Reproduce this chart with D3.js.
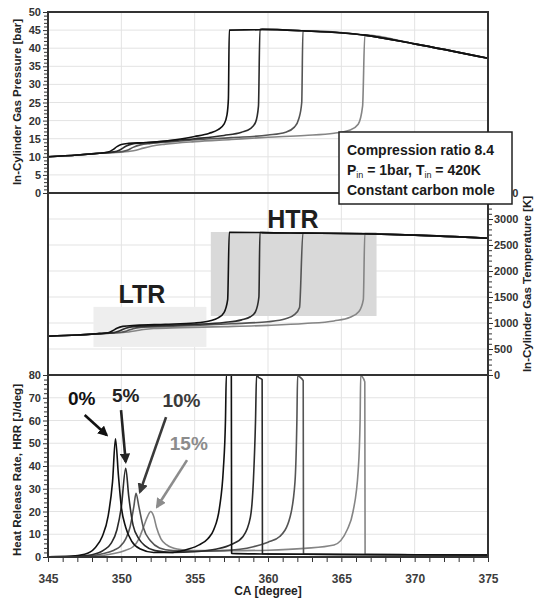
<!DOCTYPE html>
<html>
<head>
<meta charset="utf-8">
<script src="https://cdn.jsdelivr.net/npm/d3@7/dist/d3.min.js"></script>
<style>
  body { margin: 0; background: #fff; }
  svg { display: block; font-family: "Liberation Sans", Arial, sans-serif; }
</style>
</head>
<body>
<svg id="chart" width="537" height="598"></svg>
<script>
// ---- data ----
var cases = ["0%", "5%", "10%", "15%"];
var caseColors = ["#111", "#2b2b2b", "#555", "#858585"];
var caTicks = d3.range(345, 376, 5);

// pressure [bar] : shared post-ignition envelope + each case up to its ignition
var pEnvelope = [[359.6, 45.2], [362.4, 44.8], [366.6, 43.6], [370, 41.2], [375, 37.2]];
var p0 = [[345, 10.0], [347, 10.5], [348.5, 11.0], [349.1, 11.3], [349.4, 11.9], [349.7, 12.8], [350.0, 13.4], [350.5, 13.7], [351.5, 13.9], [352.6, 14.2], [353.8, 14.8], [355, 15.6], [356, 16.5], [356.6, 17.5], [357.0, 19.0], [357.2, 21.5], [357.3, 26], [357.36, 45.0], [359.5, 45.1]];
var p5 = [[345, 10.0], [347, 10.5], [348.5, 11.0], [349.5, 11.35], [349.9, 11.9], [350.3, 12.9], [350.7, 13.5], [351.5, 13.8], [353, 14.3], [355, 15.0], [357, 15.9], [358.2, 16.8], [358.8, 17.8], [359.15, 19.5], [359.35, 24], [359.45, 45.2]];
var p10 = [[345, 10.0], [347, 10.5], [348.5, 11.0], [350, 11.4], [350.4, 11.8], [350.8, 12.6], [351.3, 13.3], [352, 13.7], [353.5, 14.2], [355, 14.7], [357.5, 15.3], [360, 16.0], [361.2, 16.8], [361.8, 18.2], [362.1, 20.5], [362.3, 25], [362.38, 44.8]];
var p15 = [[345, 10.0], [347, 10.5], [348.5, 11.0], [350.5, 11.5], [351, 11.8], [351.5, 12.4], [352.1, 13.0], [353, 13.5], [355, 14.2], [357.5, 14.8], [360, 15.4], [362.5, 15.9], [364.5, 16.5], [365.6, 17.4], [366.15, 19], [366.45, 24], [366.6, 43.6]];

// temperature [K]
var tEnvelope = [[359.6, 2738], [362.4, 2728], [366.6, 2715], [370, 2690], [375, 2630]];
var t0 = [[345, 745], [347, 768], [348.5, 795], [349.1, 812], [349.4, 850], [349.7, 900], [350.1, 935], [351, 955], [353, 975], [355, 1000], [356, 1040], [356.6, 1100], [357.0, 1200], [357.25, 1450], [357.36, 2745], [359.5, 2740]];
var t5 = [[345, 745], [347, 768], [348.5, 795], [349.5, 815], [349.9, 850], [350.3, 900], [350.7, 925], [352, 945], [355, 975], [357, 1010], [358.2, 1060], [358.8, 1120], [359.15, 1220], [359.38, 1500], [359.45, 2740]];
var t10 = [[345, 745], [347, 768], [348.5, 795], [350, 822], [350.4, 850], [350.8, 890], [351.3, 915], [353, 935], [355, 955], [357.5, 985], [360, 1025], [361.2, 1080], [361.8, 1160], [362.15, 1300], [362.38, 2730]];
var t15 = [[345, 745], [347, 768], [348.5, 795], [350.5, 828], [351, 850], [351.5, 875], [352.2, 895], [354, 910], [357, 930], [360, 955], [362.5, 990], [364.5, 1040], [365.6, 1110], [366.2, 1220], [366.5, 1450], [366.6, 2718]];

// heat release rate [J/deg] (top of axis = 80)
var h0 = [[345, 0.1], [346.5, 0.3], [347.5, 1.2], [348.2, 4], [348.7, 9], [349.1, 18], [349.4, 33], [349.6, 52], [349.8, 36], [350.0, 22], [350.3, 13], [350.7, 7], [351.3, 3.5], [352.2, 2], [353.3, 2], [354.3, 3], [355.2, 5], [355.9, 8], [356.3, 12], [356.7, 22], [356.95, 38], [357.1, 60], [357.16, 80], [357.5, 80], [357.52, 1.6], [360, 1.3], [365, 1.1], [375, 0.9]];
var h5 = [[345, 0.1], [347, 0.3], [348, 1], [348.8, 3], [349.3, 6], [349.7, 12], [350.0, 22], [350.3, 39], [350.5, 27], [350.8, 14], [351.2, 8], [351.6, 5], [352.3, 2.8], [353.5, 2], [355, 2.3], [356.5, 3.5], [357.5, 5.5], [358.3, 9], [358.8, 17.5], [359.0, 33], [359.15, 60], [359.22, 80], [359.35, 79], [359.6, 78], [359.62, 1.4], [362, 1.2], [375, 0.9]];
var h10 = [[345, 0.1], [347.5, 0.3], [348.8, 1.5], [349.5, 3], [349.9, 4.5], [350.3, 8], [350.6, 13.3], [350.85, 22], [351.0, 28], [351.2, 22], [351.5, 13], [352, 7], [352.6, 4], [353.5, 2.8], [355, 2.5], [357, 2.8], [359, 4.5], [360, 6.5], [360.8, 9], [361.5, 17.5], [361.84, 33], [361.97, 60], [362.02, 80], [362.1, 79.5], [362.4, 77.5], [362.42, 1.3], [365, 1.1], [375, 0.9]];
var h15 = [[345, 0.1], [348, 0.3], [349.5, 1.5], [350.3, 3], [350.8, 4.5], [351.2, 8], [351.5, 13], [351.8, 18], [352.0, 20], [352.2, 18], [352.4, 13], [352.7, 8], [353.1, 5.3], [353.8, 3.5], [355, 2.8], [357.5, 2.8], [360, 3], [362.5, 3.8], [364.5, 5.3], [365.4, 12], [365.8, 20], [366.15, 38], [366.28, 60], [366.32, 80], [366.4, 79.5], [366.6, 77], [366.62, 1.2], [370, 1], [375, 0.9]];

// shaded regions [CA from, CA to, T low, T high] and their labels
var regionNames = ["LTR", "HTR"];
var regionBoxes = [[348.1, 355.8, 540, 1310], [356.1, 367.4, 1135, 2750]];
var regionFills = ["#eeeeee", "#d9d9d9"];
var regionLabelPos = [[351.4, 1385], [361.7, 2830]];

// percentage labels and arrows in (CA, HRR) units
var labelPos = [[347.3, 66.8], [350.3, 68.1], [354.1, 65.9], [354.6, 47.0]];
var arrowFrom = [[347.5, 62.4], [349.98, 64.6], [353.05, 61.5], [354.48, 42.6]];
var arrowTo = [[349.0, 53.6], [350.3, 41.8], [351.27, 28.6], [352.43, 22.0]];
var labelColors = ["#111", "#222", "#3a3a3a", "#8c8c8c"];

// ---- scales ----
var svg = d3.select("#chart");
var x = d3.scaleLinear().domain([345, 375]).range([48, 488]);
var yP = d3.scaleLinear().domain([0, 50]).range([193, 12]);
var yT = d3.scaleLinear().domain([0, 3500]).range([375, 193]);
var yH = d3.scaleLinear().domain([0, 80]).range([557, 375]);

function withEnvelope(pts, env) {
  var last = pts[pts.length - 1][0];
  return pts.concat(env.filter(function (d) { return d[0] > last + 0.05; }));
}
var pSeries = [p0, p5, p10, p15].map(function (s) { return withEnvelope(s, pEnvelope); });
var tSeries = [t0, t5, t10, t15].map(function (s) { return withEnvelope(s, tEnvelope); });
var hSeries = [h0, h5, h10, h15];

// ---- grid ----
var grid = svg.append("g").attr("stroke", "#e3e3e3").attr("stroke-width", 1);
grid.selectAll("line.v").data(caTicks.slice(1, -1)).enter().append("line")
  .attr("x1", function (d) { return x(d); }).attr("x2", function (d) { return x(d); })
  .attr("y1", 12).attr("y2", 557);
grid.selectAll("line.p").data(d3.range(5, 50, 5)).enter().append("line")
  .attr("x1", 48).attr("x2", 488)
  .attr("y1", function (d) { return yP(d); }).attr("y2", function (d) { return yP(d); });
grid.selectAll("line.t").data(d3.range(500, 3500, 500)).enter().append("line")
  .attr("x1", 48).attr("x2", 488)
  .attr("y1", function (d) { return yT(d); }).attr("y2", function (d) { return yT(d); });
grid.selectAll("line.h").data(d3.range(10, 80, 10)).enter().append("line")
  .attr("x1", 48).attr("x2", 488)
  .attr("y1", function (d) { return yH(d); }).attr("y2", function (d) { return yH(d); });

// ---- shaded regions ----
svg.selectAll("rect.region").data(regionBoxes).enter().append("rect")
  .attr("x", function (d) { return x(d[0]); })
  .attr("width", function (d) { return x(d[1]) - x(d[0]); })
  .attr("y", function (d) { return yT(d[3]); })
  .attr("height", function (d) { return yT(d[2]) - yT(d[3]); })
  .attr("fill", function (d, i) { return regionFills[i]; });

// ---- curves ----
var lineP = d3.line().x(function (d) { return x(d[0]); }).y(function (d) { return yP(d[1]); }).curve(d3.curveMonotoneX);
var lineT = d3.line().x(function (d) { return x(d[0]); }).y(function (d) { return yT(d[1]); }).curve(d3.curveMonotoneX);
var lineH = d3.line().x(function (d) { return x(d[0]); }).y(function (d) { return yH(d[1]); }).curve(d3.curveMonotoneX);

function drawSeries(cls, data, gen) {
  svg.append("g").selectAll("path").data(data.slice().reverse()).enter().append("path")
    .attr("d", gen)
    .attr("fill", "none")
    .attr("stroke", function (d, i) { return caseColors[data.length - 1 - i]; })
    .attr("stroke-width", 1.6)
    .attr("stroke-linejoin", "round");
}
drawSeries("p", pSeries, lineP);
drawSeries("t", tSeries, lineT);
drawSeries("h", hSeries, lineH);

// ---- frames ----
[[12, 193], [193, 375], [375, 557]].forEach(function (r) {
  svg.append("rect").attr("x", 48).attr("y", r[0]).attr("width", 440).attr("height", r[1] - r[0])
    .attr("fill", "none").attr("stroke", "#333").attr("stroke-width", 2);
});

// ---- axes ----
function styleAxis(g, majorEvery, minorLen) {
  g.select(".domain").remove();
  g.selectAll(".tick line").attr("stroke", "#333").attr("stroke-width", 1);
  g.selectAll(".tick").filter(function (d) { return Math.abs(d % majorEvery) > 1e-6; })
    .select("line").each(function () {
      var l = d3.select(this);
      if (l.attr("x2") !== null && +l.attr("x2") !== 0) l.attr("x2", +l.attr("x2") > 0 ? minorLen : -minorLen);
      if (l.attr("y2") !== null && +l.attr("y2") !== 0) l.attr("y2", +l.attr("y2") > 0 ? minorLen : -minorLen);
    });
  g.selectAll("text").attr("font-weight", "bold").attr("fill", "#333");
}

var axP = svg.append("g").attr("transform", "translate(48,0)")
  .call(d3.axisLeft(yP).tickValues(d3.range(0, 50.01, 1)).tickSize(5).tickPadding(2)
    .tickFormat(function (d) { return d % 5 === 0 ? d : ""; }));
styleAxis(axP, 5, 4);
axP.selectAll("text").attr("font-size", 11);

var axH = svg.append("g").attr("transform", "translate(48,0)")
  .call(d3.axisLeft(yH).tickValues(d3.range(0, 80.01, 2)).tickSize(5).tickPadding(2)
    .tickFormat(function (d) { return d % 10 === 0 ? d : ""; }));
styleAxis(axH, 10, 4);
axH.selectAll("text").attr("font-size", 11);

var axT = svg.append("g").attr("transform", "translate(488,0)")
  .call(d3.axisRight(yT).tickValues(d3.range(0, 3500.01, 100)).tickSize(5).tickPadding(1)
    .tickFormat(function (d) { return d % 500 === 0 ? d : ""; }));
styleAxis(axT, 500, 4);
axT.selectAll("text").attr("font-size", 11);

var axX = svg.append("g").attr("transform", "translate(0,557)")
  .call(d3.axisBottom(x).tickValues(d3.range(345, 375.01, 1)).tickSize(5).tickPadding(12)
    .tickFormat(function (d) { return d % 5 === 0 ? d : ""; }));
styleAxis(axX, 5, 5);
axX.selectAll("text").attr("font-size", 12).attr("fill", "#3c3c3c");

// ---- axis titles ----
svg.append("text").attr("transform", "translate(21,102) rotate(-90)")
  .attr("text-anchor", "middle").attr("font-size", 11.5).attr("font-weight", "bold").attr("fill", "#222")
  .text("In-Cylinder Gas Pressure [bar]");
svg.append("text").attr("transform", "translate(21,470) rotate(-90)")
  .attr("text-anchor", "middle").attr("font-size", 11.5).attr("font-weight", "bold").attr("fill", "#222")
  .text("Heat Release Rate, HRR [J/deg]");
svg.append("text").attr("transform", "translate(531,284) rotate(-90)")
  .attr("text-anchor", "middle").attr("font-size", 11.5).attr("font-weight", "bold").attr("fill", "#222")
  .text("In-Cylinder Gas Temperature [K]");
svg.append("text").attr("x", 268).attr("y", 595)
  .attr("text-anchor", "middle").attr("font-size", 12).attr("font-weight", "bold").attr("fill", "#222")
  .text("CA [degree]");

// ---- region labels ----
svg.selectAll("text.region").data(regionNames).enter().append("text")
  .attr("x", function (d, i) { return x(regionLabelPos[i][0]); })
  .attr("y", function (d, i) { return yT(regionLabelPos[i][1]); })
  .attr("text-anchor", "middle").attr("font-size", 25).attr("font-weight", "bold").attr("fill", "#1e1e1e")
  .text(function (d) { return d; });

// ---- percent labels + arrows ----
var defs = svg.append("defs");
labelColors.forEach(function (c, i) {
  defs.append("marker").attr("id", "arr" + i).attr("viewBox", "0 0 10 10")
    .attr("refX", 8).attr("refY", 5).attr("markerWidth", 4).attr("markerHeight", 4)
    .attr("orient", "auto")
    .append("path").attr("d", "M0,0L10,5L0,10z").attr("fill", c);
});
svg.selectAll("line.arrow").data(arrowFrom).enter().append("line")
  .attr("x1", function (d) { return x(d[0]); }).attr("y1", function (d) { return yH(d[1]); })
  .attr("x2", function (d, i) { return x(arrowTo[i][0]); }).attr("y2", function (d, i) { return yH(arrowTo[i][1]); })
  .attr("stroke", function (d, i) { return labelColors[i]; }).attr("stroke-width", 2.6)
  .attr("marker-end", function (d, i) { return "url(#arr" + i + ")"; });
svg.selectAll("text.pct").data(cases).enter().append("text")
  .attr("x", function (d, i) { return x(labelPos[i][0]); })
  .attr("y", function (d, i) { return yH(labelPos[i][1]); })
  .attr("text-anchor", "middle").attr("font-size", 19).attr("font-weight", "bold")
  .attr("fill", function (d, i) { return labelColors[i]; })
  .text(function (d) { return d; });

// ---- note box ----
var note = svg.append("g");
note.append("rect").attr("x", 339).attr("y", 132).attr("width", 173).attr("height", 72)
  .attr("fill", "#fff").attr("stroke", "#222").attr("stroke-width", 1.5);
var noteText = note.append("text").attr("font-size", 14).attr("font-weight", "bold").attr("fill", "#1a1a1a");
noteText.append("tspan").attr("x", 347).attr("y", 155).text("Compression ratio 8.4");
var l2 = noteText.append("tspan").attr("x", 347).attr("y", 175);
l2.append("tspan").text("P");
l2.append("tspan").attr("font-size", 9).attr("font-weight", "normal").attr("dy", 3).text("in");
l2.append("tspan").attr("dy", -3).text(" = 1bar, T");
l2.append("tspan").attr("font-size", 9).attr("font-weight", "normal").attr("dy", 3).text("in");
l2.append("tspan").attr("dy", -3).text(" = 420K");
noteText.append("tspan").attr("x", 347).attr("y", 195).text("Constant carbon mole");
</script>
</body>
</html>
